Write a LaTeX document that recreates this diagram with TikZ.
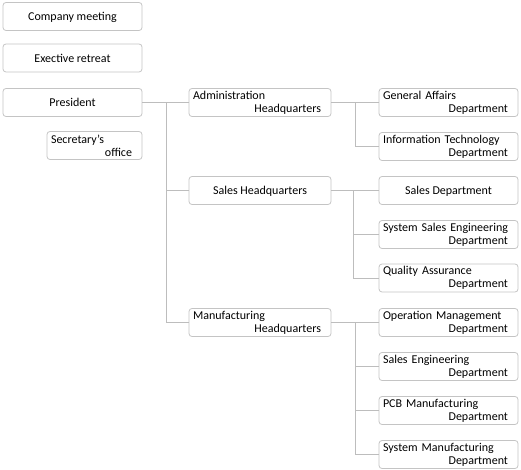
\documentclass[tikz,border=0pt]{standalone}
\usepackage{fontspec}
\setmainfont{Carlito}
\definecolor{boxgray}{HTML}{C4C4C4}
\definecolor{linegray}{HTML}{BDBDBD}
\newcommand\twoline[2]{#1\\\hspace*{\fill}#2\hspace*{6pt}}
\tikzset{
  box/.style={draw=boxgray, rounded corners=3pt, line width=0.8pt, minimum height=28pt,
    inner sep=0pt, font=\fontsize{12}{13}\selectfont, text=black},
  one/.style={box, align=center, minimum width=#1, text height=8.5pt, text depth=0pt},
  two/.style={box, align=left, inner xsep=4pt, text width=#1},
  conn/.style={draw=linegray, line width=0.8pt}
}
\begin{document}
\begin{tikzpicture}[x=1pt, y=-1pt]
\useasboundingbox (0,0) rectangle (521,470);
% left column
\node[one=139pt] (cm) at (72.5,16.5) {Company meeting};
\node[one=139pt] (er) at (72.5,58) {Exective retreat};
\node[one=139pt] (pr) at (72.5,102.5) {President};
\node[two=87pt] (so) at (94.5,145.5) {\twoline{Secretary's}{office}};
% headquarters
\node[two=134pt] (ad) at (260,102.5) {\twoline{Administration}{Headquarters}};
\node[one=142pt] (sh) at (260,190.5) {Sales Headquarters};
\node[two=134pt] (mh) at (260,322.5) {\twoline{Manufacturing}{Headquarters}};
% departments
\node[two=131pt] (ga) at (448.5,102.5) {\twoline{General Affairs}{Department}};
\node[two=131pt] (it) at (448.5,146.5) {\twoline{Information Technology}{Department}};
\node[one=139pt] (sd) at (448.5,190.5) {Sales Department};
\node[two=131pt] (ss) at (448.5,234.5) {\twoline{System Sales Engineering}{Department}};
\node[two=131pt] (qa) at (448.5,278) {\twoline{Quality Assurance}{Department}};
\node[two=131pt] (om) at (448.5,322.5) {\twoline{Operation Management}{Department}};
\node[two=131pt] (se) at (448.5,366.5) {\twoline{Sales Engineering}{Department}};
\node[two=131pt] (pcb) at (448.5,410.5) {\twoline{PCB Manufacturing}{Department}};
\node[two=131pt] (sm) at (448.5,454.5) {\twoline{System Manufacturing}{Department}};
% connectors
\coordinate (t0) at (166,102.5);
\draw[conn] (pr.east) -- (ad.west);
\draw[conn] (t0) |- (sh.west);
\draw[conn] (t0) |- (mh.west);
\coordinate (t1) at (355,102.5);
\draw[conn] (ad.east) -- (ga.west);
\draw[conn] (t1) |- (it.west);
\coordinate (t2) at (353,190.5);
\draw[conn] (sh.east) -- (sd.west);
\draw[conn] (t2) |- (ss.west);
\draw[conn] (t2) |- (qa.west);
\coordinate (t3) at (355,322.5);
\draw[conn] (mh.east) -- (om.west);
\draw[conn] (t3) |- (se.west);
\draw[conn] (t3) |- (pcb.west);
\draw[conn] (t3) |- (sm.west);
\end{tikzpicture}
\end{document}
